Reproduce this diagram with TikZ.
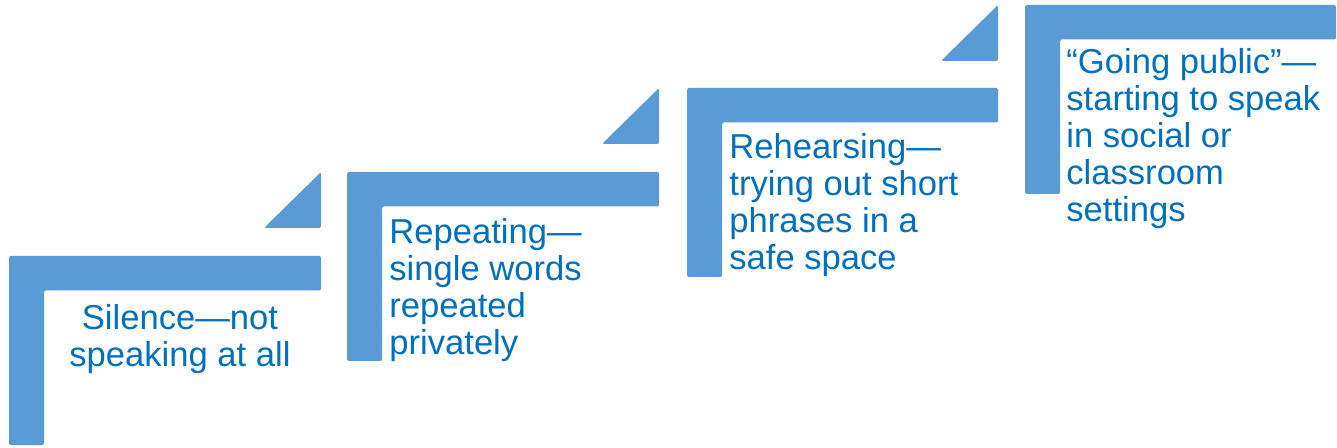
\documentclass[tikz,border=0pt]{standalone}
\usepackage{fontspec}
\setmainfont{Liberation Sans}
\usetikzlibrary{positioning}
\definecolor{stairblue}{HTML}{5B9BD5}
\definecolor{textblue}{HTML}{0070C0}
\tikzset{%
  stair/.style = {fill=stairblue,draw=none,rounded corners=0.75pt},
  lbl/.style = {text=textblue,inner sep=0pt,anchor=base west,
        align=left,font=\fontsize{17.3}{18.5}\selectfont}
}

\begin{document}
\begin{tikzpicture}[x=0.5pt,y=-0.5pt]
    \useasboundingbox (0,0) rectangle (1337,448);
    % stairs
    \fill[stair] (9,256) -- ++(312,0) -- ++(0,34.5) -- ++(-277,0)
        -- ++(0,154.5) -- ++(-35,0) -- cycle;
    \fill[stair] (264,228) -- ++(57,0) -- ++(0,-56) -- cycle;
    \fill[stair] (347,172) -- ++(312,0) -- ++(0,34.5) -- ++(-277,0)
        -- ++(0,154.5) -- ++(-35,0) -- cycle;
    \fill[stair] (602,144) -- ++(57,0) -- ++(0,-56) -- cycle;
    \fill[stair] (687,88) -- ++(311,0) -- ++(0,34.5) -- ++(-276,0)
        -- ++(0,154.5) -- ++(-35,0) -- cycle;
    \fill[stair] (941,61) -- ++(57,0) -- ++(0,-56) -- cycle;
    \fill[stair] (1025,5) -- ++(311,0) -- ++(0,34.5) -- ++(-276,0)
        -- ++(0,154.5) -- ++(-35,0) -- cycle;
    % labels (anchored at the last line)
    \node[lbl,anchor=base,align=center] (s1) at (180,366)
        {Silence—not\\speaking at all};
    \node[lbl] (s2) at (389,355) {Repeating—\\single words\\repeated\\privately};
    \node[lbl] (s3) at (729,270) {Rehearsing—\\trying out short\\phrases in a\\safe space};
    \node[lbl] (s4) at (1066,222) {“Going public”—\\starting to speak\\in social or\\classroom\\settings};
\end{tikzpicture}
\end{document}
